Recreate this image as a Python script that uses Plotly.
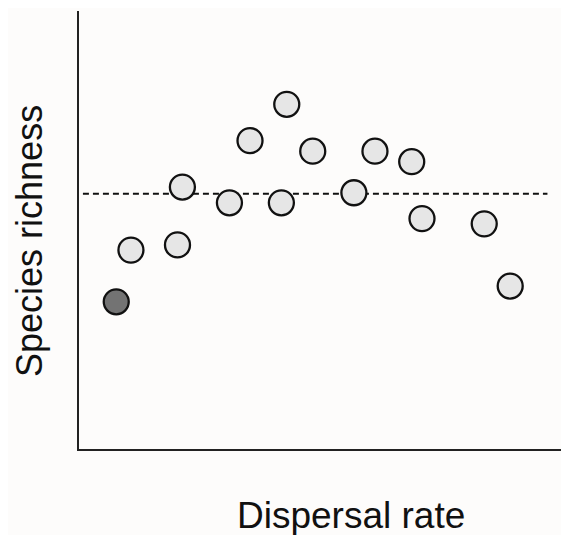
import plotly.graph_objects as go

# Data (arbitrary units)
dispersal = [0.76, 1.06, 2.11, 2.01, 3.07, 3.49, 4.13, 4.24, 4.77, 5.61, 6.04, 6.79, 7.00, 8.27, 8.80]
richness = [3.36, 4.54, 5.98, 4.66, 5.62, 7.04, 5.62, 7.87, 6.80, 5.85, 6.80, 6.56, 5.26, 5.14, 3.72]
highlight = [True] + [False] * 14
reference_level = 5.83
reference_x = [0.08, 9.56]

x_title = "Dispersal rate"
y_title = "Species richness"

fill_colors = ["#737373" if h else "#e6e6e6" for h in highlight]

fig = go.Figure()
fig.add_trace(go.Scatter(
    x=reference_x, y=[reference_level, reference_level], mode="lines",
    line=dict(color="#111111", width=2, dash="6px,4px"),
    hoverinfo="skip", showlegend=False,
))
fig.add_trace(go.Scatter(
    x=dispersal, y=richness, mode="markers",
    marker=dict(size=25, color=fill_colors, line=dict(color="#111111", width=2.3)),
    showlegend=False,
))

fig.update_layout(
    width=561, height=527,
    margin=dict(l=71, r=0, t=3, b=86),
    paper_bgcolor="#fdfcfb", plot_bgcolor="#fdfcfb",
    font=dict(family="Liberation Sans, Arial, sans-serif", color="#111111"),
    xaxis=dict(range=[0, 10], showgrid=False, zeroline=False, showticklabels=False,
               ticks="", showline=True, linecolor="#222222", linewidth=2),
    yaxis=dict(range=[0, 10], showgrid=False, zeroline=False, showticklabels=False,
               ticks="", showline=True, linecolor="#222222", linewidth=2),
    annotations=[
        dict(text=x_title, xref="paper", yref="paper", x=(351 - 79) / 490, y=-(515 - 449) / 438,
             showarrow=False, font=dict(size=37), xanchor="center", yanchor="middle"),
        dict(text=y_title, xref="paper", yref="paper", x=-(79 - 29) / 490, y=(449 - 241) / 438,
             showarrow=False, font=dict(size=36), textangle=-90, xanchor="center", yanchor="middle"),
    ],
)

fig.write_html("out.html")
